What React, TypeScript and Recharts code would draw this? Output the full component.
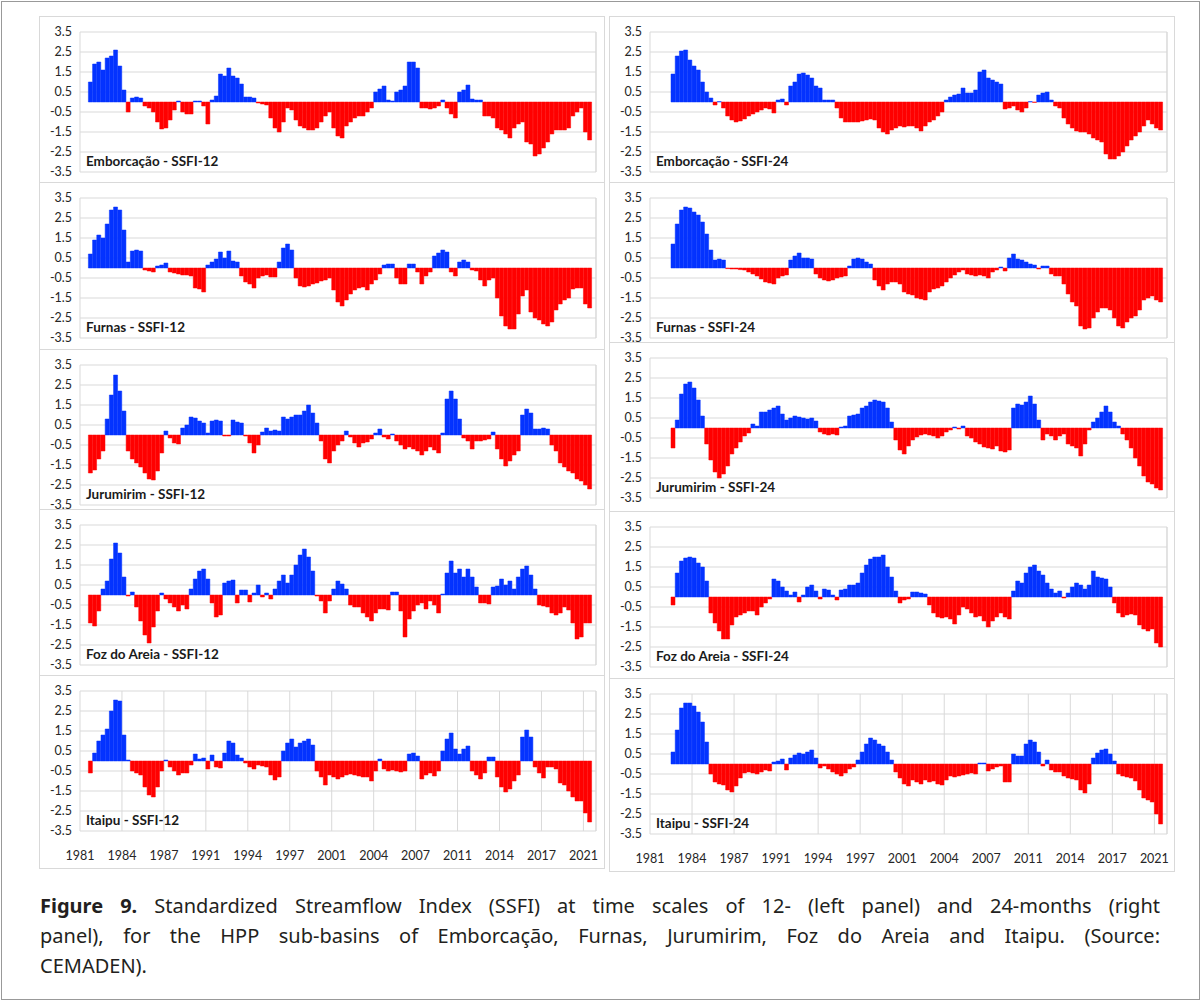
import React from 'react';
import { BarChart, Bar, XAxis, YAxis, CartesianGrid, Cell, ReferenceLine } from 'recharts';

// one value per 4-month step, Jan 1981 .. Dec 2021 (123 steps)
const N_BINS = 123;
const TICK_POS = [0, 10, 20, 30, 40, 50, 60, 70, 80, 90, 100, 110, 120];
const TICK_YEARS = ['1981', '1984', '1987', '1991', '1994', '1997', '2001', '2004', '2007', '2011', '2014', '2017', '2021'];
const Y_TICKS = [3.5, 2.5, 1.5, 0.5, -0.5, -1.5, -2.5, -3.5];

const EMB_12 = [
  null, null, 1.0, 1.9, 2.0, 1.6, 2.2, 2.3, 2.6, 1.8,
  0.6, -0.5, 0.2, 0.25, 0.2, -0.2, -0.3, -0.5, -1.0, -1.35,
  -1.3, -0.9, -0.4, 0.05, -0.5, -0.6, -0.6, 0.05, 0.05, -0.2,
  -1.1, 0.1, 0.3, 1.4, 1.3, 1.7, 1.3, 1.2, 0.9, 0.25,
  0.25, 0.2, -0.05, -0.1, -0.15, -0.8, -1.3, -1.5, -1.0, -0.3,
  -0.4, -0.9, -1.2, -1.3, -1.4, -1.4, -1.3, -1.0, -0.7, -0.5,
  -1.3, -1.7, -1.8, -1.2, -1.0, -0.8, -0.7, -0.7, -0.5, -0.3,
  0.5, 0.65, 0.8, 0.1, 0.05, 0.5, 0.6, 0.8, 2.0, 2.0,
  1.7, -0.3, -0.3, -0.35, -0.3, -0.2, 0.1, -0.3, -0.6, -0.8,
  0.5, 0.6, 0.85, 0.15, 0.1, 0.1, -0.7, -0.7, -0.8, -1.3,
  -1.4, -1.6, -1.8, -1.3, -1.1, -1.0, -2.0, -2.1, -2.7, -2.6,
  -2.3, -2.0, -1.6, -1.4, -1.4, -1.4, -1.3, -0.7, -0.5, -0.3,
  -1.5, -1.9, null,
];

const EMB_24 = [
  null, null, null, null, null, 1.4, 2.3, 2.55, 2.6, 2.1,
  1.8, 1.6, 1.0, 0.5, 0.2, -0.15, 0.02, -0.3, -0.7, -0.9,
  -1.0, -0.95, -0.85, -0.7, -0.6, -0.5, -0.4, -0.3, -0.35, -0.55,
  0.1, 0.15, -0.15, 0.8, 1.0, 1.4, 1.45, 1.35, 1.2, 0.8,
  0.7, 0.1, 0.1, 0.1, -0.3, -0.8, -1.0, -1.0, -1.0, -1.0,
  -0.95, -0.9, -0.85, -0.9, -1.3, -1.5, -1.6, -1.4, -1.3, -1.2,
  -1.25, -1.2, -1.2, -1.3, -1.45, -1.2, -1.0, -0.9, -0.7, -0.5,
  0.1, 0.25, 0.35, 0.4, 0.7, 0.45, 0.45, 0.6, 1.5, 1.6,
  1.2, 1.1, 1.0, 0.9, -0.35, -0.3, -0.2, -0.4, -0.5, -0.3,
  0.02, -0.02, 0.35, 0.45, 0.5, 0.1, -0.2, -0.3, -0.8, -1.1,
  -1.3, -1.45, -1.5, -1.5, -1.6, -1.8, -1.9, -2.0, -2.6, -2.85,
  -2.85, -2.7, -2.5, -2.2, -1.9, -1.7, -1.5, -1.2, -0.9, -1.1,
  -1.3, -1.4, null,
];

const FUR_12 = [
  null, null, 0.7, 1.4, 1.65, 1.5, 2.2, 2.9, 3.05, 2.9,
  1.9, 0.3, 0.85, 0.9, 0.85, -0.1, -0.15, -0.2, 0.1, 0.15,
  0.25, -0.2, -0.25, -0.3, -0.35, -0.35, -0.4, -1.0, -1.05, -1.2,
  0.15, 0.3, 0.45, 0.8, 0.5, 0.85, 0.35, 0.3, -0.4, -0.7,
  -0.8, -1.0, -0.5, -0.4, -0.35, -0.45, -0.45, 0.3, 1.0, 1.2,
  0.9, -0.5, -0.9, -0.95, -0.9, -0.8, -0.75, -0.65, -0.6, -0.5,
  -1.1, -1.7, -1.9, -1.6, -1.3, -1.1, -1.0, -0.95, -1.1, -0.8,
  -0.6, -0.3, 0.15, 0.2, 0.2, -0.5, -0.8, -0.8, 0.2, 0.2,
  -0.2, -0.8, -0.4, -0.2, 0.6, 0.75, 0.9, 0.8, -0.2, -0.4,
  0.3, 0.4, 0.3, -0.1, -0.15, -0.6, -0.9, -0.6, -0.5, -1.5,
  -2.4, -2.9, -3.05, -3.05, -2.3, -1.4, -1.1, -2.2, -2.5, -2.6,
  -2.8, -2.9, -2.7, -2.1, -1.8, -1.6, -1.5, -1.05, -1.0, -1.0,
  -1.8, -2.0, null,
];

const FUR_24 = [
  null, null, null, null, null, 1.2, 2.2, 2.9, 3.05, 3.0,
  2.8, 2.65, 2.3, 1.7, 0.9, 0.4, 0.45, 0.4, -0.03, -0.05,
  -0.05, -0.08, -0.1, -0.2, -0.3, -0.4, -0.55, -0.7, -0.75, -0.8,
  -0.5, -0.4, -0.35, 0.4, 0.6, 0.75, 0.5, 0.5, 0.45, -0.3,
  -0.5, -0.6, -0.65, -0.6, -0.5, -0.45, -0.4, 0.1, 0.45, 0.5,
  0.45, 0.3, 0.2, -0.6, -0.9, -1.1, -0.8, -0.7, -0.7, -0.8,
  -1.2, -1.3, -1.35, -1.5, -1.55, -1.6, -1.2, -1.05, -1.0, -0.9,
  -0.7, -0.5, -0.35, -0.2, -0.1, -0.3, -0.35, -0.4, -0.35, -0.4,
  -0.5, -0.2, -0.1, 0.05, -0.15, 0.5, 0.7, 0.45, 0.4, 0.3,
  0.2, 0.15, -0.05, 0.1, 0.1, -0.3, -0.4, -0.4, -0.8, -1.3,
  -1.7, -1.9, -2.9, -3.05, -3.0, -2.5, -2.2, -2.0, -2.0, -2.1,
  -2.5, -2.9, -3.0, -2.7, -2.5, -2.4, -2.1, -1.6, -1.5, -1.4,
  -1.6, -1.7, null,
];

const JUR_12 = [
  null, null, -1.9, -1.75, -1.2, -0.8, 0.8, 2.0, 3.0, 2.2,
  1.2, -0.8, -1.2, -1.4, -1.6, -1.9, -2.2, -2.25, -1.8, -0.9,
  0.2, -0.15, -0.4, -0.45, 0.35, 0.5, 0.9, 0.85, 0.7, 0.6,
  0.1, 0.7, 0.75, 0.7, -0.05, -0.05, 0.75, 0.65, 0.6, -0.05,
  -0.4, -0.9, -0.5, 0.15, 0.35, 0.2, 0.25, 0.2, 0.9, 0.8,
  0.9, 1.0, 1.0, 1.2, 1.5, 1.1, 0.6, -0.3, -1.2, -1.4,
  -0.8, -0.5, -0.3, 0.2, -0.1, -0.4, -0.6, -0.4, -0.35, -0.2,
  0.1, 0.3, -0.1, -0.2, 0.05, -0.3, -0.5, -0.7, -0.6, -0.7,
  -0.8, -1.0, -0.8, -0.6, -0.75, -0.9, 0.1, 1.8, 2.2, 1.8,
  0.8, -0.15, -0.3, -0.7, -0.3, -0.3, -0.25, -0.2, 0.15, -0.7,
  -1.2, -1.55, -1.3, -1.0, -0.8, 1.0, 1.3, 1.1, 0.3, 0.3,
  0.35, 0.3, -0.5, -0.8, -1.4, -1.6, -1.8, -1.9, -2.2, -2.3,
  -2.5, -2.7, null,
];

const JUR_24 = [
  null, null, null, null, null, -1.0, 0.4, 1.7, 2.2, 2.3,
  2.0, 1.4, 0.6, -0.8, -1.6, -2.2, -2.5, -2.3, -1.9, -1.3,
  -1.0, -0.7, -0.4, -0.25, 0.2, 0.1, 0.8, 0.8, 0.9, 1.0,
  1.1, 0.7, 0.4, 0.5, 0.6, 0.55, 0.5, 0.45, 0.5, 0.35,
  -0.2, -0.3, -0.35, -0.3, -0.35, 0.05, 0.1, 0.6, 0.65, 0.7,
  1.0, 1.1, 1.3, 1.4, 1.35, 1.3, 1.0, 0.3, -0.6, -1.1,
  -1.3, -0.9, -0.6, -0.45, -0.35, -0.3, -0.35, -0.4, -0.5, -0.4,
  -0.2, -0.1, 0.05, -0.05, 0.1, -0.4, -0.5, -0.7, -0.8, -0.95,
  -1.0, -1.05, -0.9, -1.15, -1.2, -1.1, 1.0, 1.2, 1.15, 1.3,
  1.6, 1.2, 0.4, -0.6, -0.3, -0.4, -0.6, -0.4, -0.3, -0.8,
  -0.9, -1.0, -1.4, -0.8, -0.1, 0.3, 0.5, 0.8, 1.1, 0.8,
  0.3, 0.1, -0.3, -0.6, -1.0, -1.5, -1.9, -2.4, -2.7, -2.8,
  -3.0, -3.1, null,
];

const FOZ_12 = [
  null, null, -1.4, -1.55, -0.8, 0.3, 0.7, 1.8, 2.6, 2.1,
  0.9, -0.05, 0.15, -0.6, -1.3, -2.0, -2.4, -1.6, -0.8, 0.1,
  -0.2, -0.4, -0.6, -0.8, -0.5, -0.7, 0.3, 0.8, 1.2, 1.3,
  0.8, -0.4, -1.1, -1.0, 0.6, 0.7, 0.75, -0.4, 0.25, 0.25,
  -0.35, 0.1, 0.5, -0.1, 0.1, -0.2, 0.3, 0.7, 1.0, 0.6,
  1.0, 1.5, 2.0, 2.3, 1.9, 1.2, -0.05, -0.3, -0.9, -0.3,
  0.3, 0.7, 0.55, 0.3, -0.5, -0.6, -0.6, -0.9, -1.1, -1.3,
  -0.9, -0.7, -0.7, -0.75, 0.15, 0.15, -0.8, -2.1, -1.2, -0.8,
  -0.5, -0.4, -0.7, -0.3, -0.5, -0.9, 0.05, 1.1, 1.7, 1.1,
  1.3, 0.9, 1.3, 0.9, 0.4, -0.4, -0.4, -0.45, 0.4, 0.45,
  0.8, 0.5, 0.7, 0.3, 0.9, 1.3, 1.45, 1.0, 0.3, -0.5,
  -0.55, -0.6, -0.9, -1.0, -0.9, -0.6, -0.75, -1.4, -2.2, -2.1,
  -1.4, -1.4, null,
];

const FOZ_24 = [
  null, null, null, null, null, -0.4, 1.2, 1.8, 1.95, 2.0,
  1.95, 1.7, 1.5, 0.8, -0.8, -1.3, -1.7, -2.1, -2.1, -1.4,
  -1.0, -0.9, -0.8, -0.7, -0.7, -0.9, -0.5, -0.3, -0.1, 0.9,
  0.8, 0.5, 0.3, 0.1, 0.25, -0.25, 0.1, 0.5, 0.6, 0.3,
  -0.1, 0.4, 0.35, 0.1, -0.15, 0.35, 0.4, 0.6, 0.6, 0.7,
  1.2, 1.6, 1.9, 2.0, 2.0, 2.1, 1.5, 1.0, 0.3, -0.3,
  -0.15, -0.1, 0.25, 0.25, 0.2, 0.15, -0.4, -0.8, -1.0, -1.05,
  -1.0, -1.1, -1.35, -0.9, -0.5, -0.6, -0.8, -1.0, -0.95, -1.2,
  -1.5, -1.2, -1.0, -0.8, -1.0, -1.1, 0.3, 0.8, 0.7, 1.2,
  1.5, 1.6, 1.3, 1.1, 0.7, 0.4, 0.2, 0.3, -0.05, 0.2,
  0.5, 0.7, 0.6, 0.4, 0.6, 1.3, 1.0, 0.95, 0.9, 0.5,
  -0.3, -0.8, -1.0, -0.9, -0.85, -0.9, -1.4, -1.6, -1.7, -1.6,
  -2.3, -2.5, null,
];

const ITA_12 = [
  null, null, -0.6, 0.4, 1.0, 1.3, 1.6, 2.5, 3.05, 3.0,
  1.3, 0.05, -0.5, -0.6, -0.7, -1.3, -1.7, -1.8, -1.3, -0.5,
  0.05, -0.3, -0.5, -0.7, -0.6, -0.6, -0.2, 0.35, 0.1, 0.15,
  -0.4, 0.3, -0.3, -0.35, 0.4, 1.0, 0.9, 0.3, 0.15, -0.1,
  -0.3, -0.4, -0.2, -0.25, -0.3, -0.7, -0.95, -0.8, 0.5, 0.9,
  1.1, 0.7, 0.9, 1.0, 1.1, 0.8, -0.5, -0.8, -1.2, -0.7,
  -0.8, -0.9, -0.8, -0.7, -0.65, -0.7, -0.75, -0.8, -0.8, -1.0,
  -0.5, 0.1, -0.4, -0.5, -0.45, -0.5, -0.55, -0.5, 0.35, 0.4,
  0.25, -0.9, -0.7, -0.6, -0.75, -0.5, 0.5, 1.1, 1.4, 0.6,
  0.35, 0.6, 0.75, -0.5, -0.7, -0.9, -0.6, 0.2, 0.2, -0.8,
  -1.3, -1.55, -1.4, -1.0, -0.7, 1.2, 1.55, 1.2, -0.3, -0.6,
  -0.85, -0.3, -0.3, -0.4, -1.1, -1.2, -1.5, -1.8, -2.0, -2.0,
  -2.6, -3.05, null,
];

const ITA_24 = [
  null, null, null, null, null, 0.6, 1.7, 2.8, 3.05, 3.05,
  2.9, 2.6, 2.1, 1.1, -0.5, -0.9, -1.0, -1.05, -1.3, -1.4,
  -1.1, -0.7, -0.45, -0.4, -0.45, -0.5, -0.4, -0.3, -0.35, 0.1,
  0.15, 0.25, -0.3, 0.3, 0.45, 0.55, 0.5, 0.6, 0.7, 0.3,
  -0.2, -0.1, -0.25, -0.4, -0.5, -0.6, -0.45, -0.25, -0.15, 0.2,
  0.6, 1.0, 1.3, 1.2, 1.0, 0.9, 0.6, 0.2, -0.4, -0.7,
  -1.0, -1.1, -0.8, -0.9, -1.0, -0.8, -0.9, -0.85, -1.0, -1.05,
  -0.8, -0.6, -0.65, -0.6, -0.55, -0.5, -0.45, -0.5, 0.05, 0.05,
  -0.35, -0.25, -0.15, -0.1, -0.9, -0.9, 0.5, 0.4, 0.4, 1.0,
  1.2, 1.1, 0.6, -0.1, 0.2, -0.3, -0.4, -0.4, -0.6, -0.7,
  -0.75, -0.8, -1.3, -1.45, -1.0, 0.3, 0.55, 0.7, 0.75, 0.5,
  0.15, -0.5, -0.6, -0.65, -0.7, -0.85, -1.3, -1.7, -1.8, -1.9,
  -2.5, -3.0, null,
];

const LEFT_TITLES = ['Emborcação - SSFI-12', 'Furnas - SSFI-12', 'Jurumirim - SSFI-12', 'Foz do Areia - SSFI-12', 'Itaipu - SSFI-12'];
const RIGHT_TITLES = ['Emborcação - SSFI-24', 'Furnas - SSFI-24', 'Jurumirim - SSFI-24', 'Foz do Areia - SSFI-24', 'Itaipu - SSFI-24'];
const LEFT_SERIES = [EMB_12, FUR_12, JUR_12, FOZ_12, ITA_12];
const RIGHT_SERIES = [EMB_24, FUR_24, JUR_24, FOZ_24, ITA_24];

const BLUE = '#0433ff';
const RED = '#ff0000';
const GRID = '#d9d9d9';
const FONT = 'Lato, "Liberation Sans", sans-serif';

// frame boxes (top, height) per row
const LEFT_FRAMES = [[16, 167], [182, 168], [349, 161], [509, 167], [675, 194]];
const RIGHT_FRAMES = [[16, 167], [182, 161], [342, 170], [511, 168], [678, 194]];

type PanelProps = {
  title: string;
  values: (number | null)[];
  left: number;
  top: number;
  height: number;
  marginRight: number;
  bottom: boolean;
};

const Panel = ({ title, values, left, top, height, marginRight, bottom }: PanelProps) => {
  const data = values.map((v, i) => ({ x: i + 0.5, v }));
  const tick = { fontSize: 12.5, fill: '#262626', fontFamily: FONT };
  return (
    <div
      style={{
        position: 'absolute',
        left,
        top,
        width: 566,
        height,
        boxSizing: 'border-box',
        border: `1px solid ${GRID}`,
        background: '#fff',
      }}
    >
      <BarChart
        width={564}
        height={bottom ? 190 : 165}
        data={data}
        margin={{ top: 15, right: marginRight, left: 0, bottom: bottom ? 5 : 9 }}
        barCategoryGap={0}
      >
        <CartesianGrid stroke={GRID} strokeWidth={1} />
        <XAxis
          type="number"
          dataKey="x"
          domain={[0, N_BINS]}
          ticks={TICK_POS}
          allowDataOverflow
          axisLine={false}
          tickLine={false}
          height={bottom ? 30 : 1}
          tick={bottom ? tick : false}
          tickMargin={14}
          tickFormatter={(v: number) => TICK_YEARS[TICK_POS.indexOf(v)] ?? ''}
        />
        <YAxis
          type="number"
          domain={[-3.5, 3.5]}
          ticks={Y_TICKS}
          interval={0}
          width={40}
          axisLine={false}
          tickLine={false}
          tick={tick}
          tickFormatter={(v: number) => v.toFixed(1)}
        />
        <ReferenceLine x={N_BINS} stroke={GRID} />
        <Bar dataKey="v" isAnimationActive={false} barSize={4}>
          {data.map((d, i) => {
            const c = d.v !== null && d.v >= 0 ? BLUE : RED;
            return <Cell key={i} fill={c} stroke={c} strokeWidth={0.5} />;
          })}
        </Bar>
      </BarChart>
      <div
        style={{
          position: 'absolute',
          left: 46,
          top: 136,
          fontFamily: FONT,
          fontWeight: 700,
          fontSize: 13.5,
          lineHeight: '17px',
          color: '#1a1a1a',
          whiteSpace: 'nowrap',
        }}
      >
        {title}
      </div>
    </div>
  );
};

const captionLine: React.CSSProperties = {
  textAlign: 'justify',
  textAlignLast: 'justify',
  height: 30,
};

export default function App() {
  return (
    <div
      style={{
        position: 'absolute',
        left: 0,
        top: 0,
        width: 1202,
        height: 1002,
        background: '#fff',
        overflow: 'hidden',
      }}
    >
      <div
        style={{
          position: 'absolute',
          left: 1,
          top: 1,
          width: 1199,
          height: 999,
          boxSizing: 'border-box',
          border: '1.5px solid #999',
        }}
      />
      {LEFT_SERIES.map((vals, r) => (
        <Panel
          key={'l' + r}
          title={LEFT_TITLES[r]}
          values={vals}
          left={39}
          top={LEFT_FRAMES[r][0]}
          height={LEFT_FRAMES[r][1]}
          marginRight={8}
          bottom={r === 4}
        />
      ))}
      {RIGHT_SERIES.map((vals, r) => (
        <Panel
          key={'r' + r}
          title={RIGHT_TITLES[r]}
          values={vals}
          left={609}
          top={RIGHT_FRAMES[r][0]}
          height={RIGHT_FRAMES[r][1]}
          marginRight={7}
          bottom={r === 4}
        />
      ))}
      <div
        style={{
          position: 'absolute',
          left: 40,
          top: 891,
          width: 1120,
          fontFamily: '"Noto Sans", sans-serif',
          fontSize: 20,
          lineHeight: '30px',
          color: '#231f20',
        }}
      >
        <div style={captionLine}>
          <b>Figure 9.</b> Standardized Streamflow Index (SSFI) at time scales of 12- (left panel) and 24-months (right
        </div>
        <div style={captionLine}>
          panel), for the HPP sub-basins of Emborcação, Furnas, Jurumirim, Foz do Areia and Itaipu. (Source:
        </div>
        <div style={{ height: 30 }}>CEMADEN).</div>
      </div>
    </div>
  );
}
